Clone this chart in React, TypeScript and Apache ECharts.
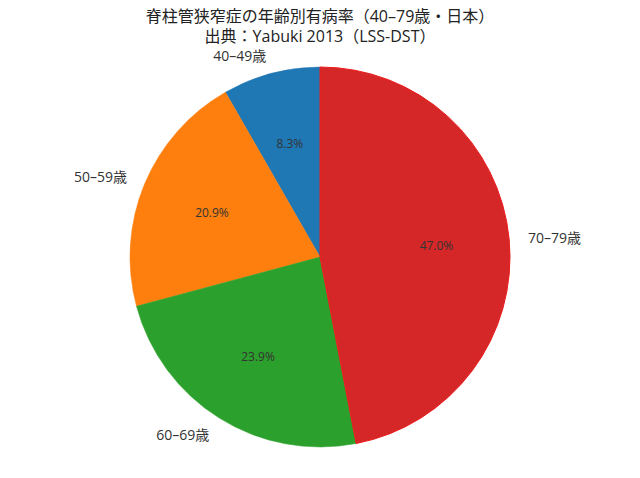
import React, { useEffect, useRef } from "react";
import * as echarts from "echarts";

const categories = ["40–49歳", "50–59歳", "60–69歳", "70–79歳"];
const values = [8.3, 20.9, 23.9, 47.0];
const colors = ["#1f77b4", "#ff7f0e", "#2ca02c", "#d62728"];
const titleLines = ["脊柱管狭窄症の年齢別有病率（40–79歳・日本）", "出典：Yabuki 2013（LSS-DST）"];

const FONT = '"Open Sans", "Noto Sans CJK JP", sans-serif';

export default function App() {
  const ref = useRef<HTMLDivElement>(null);
  useEffect(() => {
    document.body.style.margin = "0";
    const chart = echarts.init(ref.current!, null, { renderer: "svg" });
    const R = 190;
    const center = [320, 257];
    const data = categories.map((name, i) => ({
      name,
      value: values[i],
      itemStyle: {
        color: colors[i],
        borderColor: i === 3 ? "#ee1c1c" : colors[i],
        borderWidth: i === 3 ? 1 : 0.5,
      },
    }));
    chart.setOption({
      animation: false,
      backgroundColor: "#ffffff",
      title: {
        text: titleLines.join("\n"),
        left: "center",
        top: 6,
        padding: 0,
        textStyle: {
          fontSize: 16,
          lineHeight: 20,
          fontWeight: "normal",
          color: "#222",
          fontFamily: FONT,
        },
      },
      series: [
        {
          type: "pie",
          center,
          radius: [0, R],
          startAngle: 90,
          clockwise: false,
          avoidLabelOverlap: false,
          silent: true,
          data,
          label: {
            show: true,
            position: "outside",
            formatter: "{b}",
            fontSize: 14,
            lineHeight: 16,
            color: "#333",
            fontFamily: FONT,
            distanceToLabelLine: 0,
          },
          labelLine: { show: false, length: 19, length2: 0 },
        },
        {
          type: "pie",
          center,
          radius: [38, R],
          startAngle: 90,
          clockwise: false,
          avoidLabelOverlap: false,
          silent: true,
          data: categories.map((name, i) => ({ name, value: values[i] })),
          itemStyle: { color: "transparent", borderWidth: 0 },
          label: {
            show: true,
            position: "inside",
            formatter: (p: any) => p.value.toFixed(1) + "%",
            fontSize: 12,
            color: "#333",
            fontFamily: FONT,
          },
          labelLine: { show: false },
        },
      ],
    });
    return () => chart.dispose();
  }, []);
  return <div ref={ref} style={{ width: 640, height: 478 }} />;
}
